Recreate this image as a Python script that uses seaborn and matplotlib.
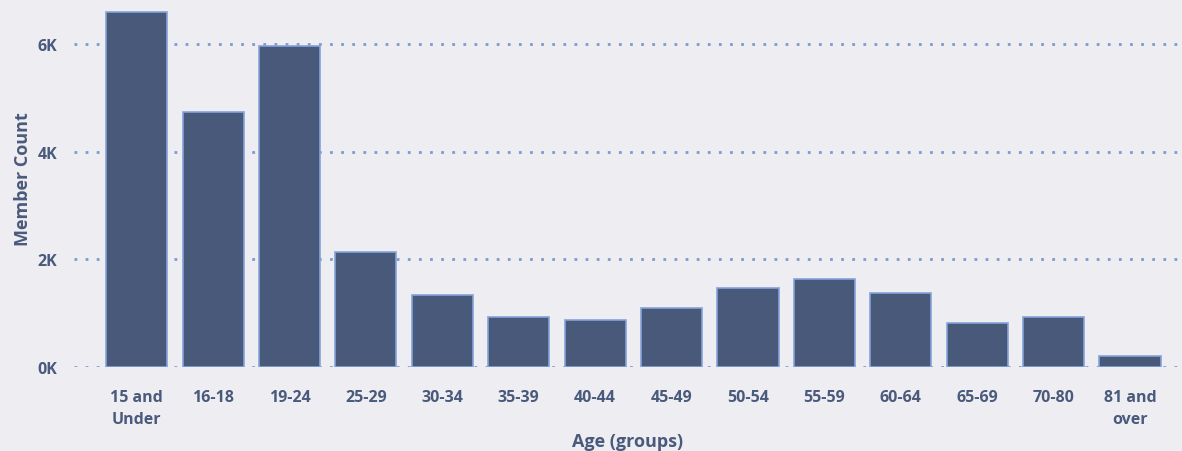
import pandas as pd
import matplotlib.pyplot as plt
import seaborn as sns
from matplotlib.ticker import FuncFormatter

# data
age_groups = ['15 and\nUnder', '16-18', '19-24', '25-29', '30-34', '35-39', '40-44',
              '45-49', '50-54', '55-59', '60-64', '65-69', '70-80', '81 and\nover']
member_count = [6600, 4740, 5960, 2140, 1340, 930, 870, 1100, 1470, 1630, 1370, 820, 930, 200]

df = pd.DataFrame({'Age': age_groups, 'Count': member_count})

bg = '#EEEEF2'
bar_color = '#48597A'
edge_color = '#85A3DA'
text_color = '#4A5A7C'

sns.set_style('white')
plt.rcParams['font.family'] = ['Open Sans', 'DejaVu Sans']

fig = plt.figure(figsize=(11.82, 4.52), dpi=100, facecolor=bg)
ax = fig.add_axes([74 / 1182, 84 / 452, 1 - 74 / 1182, (452 - 84 - 5) / 452])
ax.set_facecolor(bg)

sns.barplot(data=df, x='Age', y='Count', color=bar_color, width=0.8,
            edgecolor=edge_color, linewidth=1.2, saturation=1, ax=ax, zorder=3)

ax.set_ylim(0, 6750)
ax.set_xlim(-0.82, 13.68)
ax.set_yticks([0, 2000, 4000, 6000])
ax.yaxis.set_major_formatter(FuncFormatter(lambda v, p: f'{v / 1000:.0f}K'))
ax.grid(axis='y', linestyle=(0, (1, 3)), color='#7B9BD2', linewidth=2, zorder=0)
ax.grid(axis='x', visible=False)
for s in ax.spines.values():
    s.set_visible(False)
ax.tick_params(length=0, colors=text_color, labelsize=11.5)
ax.tick_params(axis='x', pad=16)
ax.tick_params(axis='y', pad=12)
for lbl in ax.get_xticklabels() + ax.get_yticklabels():
    lbl.set_fontweight('bold')
    lbl.set_linespacing(1.45)

ax.set_xlabel('Age (groups)', fontsize=13, fontweight='bold', color=text_color, labelpad=4)
ax.set_ylabel('Member Count', fontsize=13, fontweight='bold', color=text_color)
ax.yaxis.set_label_coords(-0.038, 0.52)

fig.savefig('out.png', dpi=100, facecolor=bg)
